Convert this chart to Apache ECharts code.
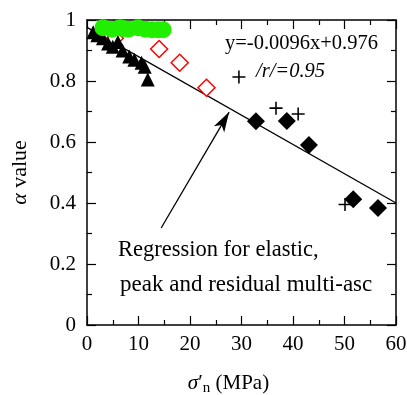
<!DOCTYPE html>
<html><head><meta charset="utf-8">
<script src="https://cdn.jsdelivr.net/npm/echarts@6/dist/echarts.min.js"></script>
<style>html,body{margin:0;padding:0;background:#fff}#c{width:407px;height:395px}</style>
</head><body><div id="c"></div>
<script>
// Data
const greenX = [3.1, 4.9, 6.4, 7.0, 8.0, 9.9, 11.3, 12.6, 13.8, 14.8];
const greenY = [0.975, 0.970, 0.975, 0.972, 0.970, 0.975, 0.970, 0.968, 0.968, 0.968];
const triX = [1.2, 2.0, 3.1, 4.1, 5.0, 6.0, 6.9, 8.2, 9.2, 10.6, 11.2, 11.8];
const triY = [0.960, 0.950, 0.940, 0.923, 0.912, 0.928, 0.900, 0.880, 0.870, 0.860, 0.847, 0.805];
const redX = [5.4, 14.0, 18.0, 23.2];
const redY = [0.940, 0.905, 0.860, 0.778];
const diaX = [32.8, 38.8, 43.1, 51.7, 56.5];
const diaY = [0.668, 0.669, 0.590, 0.412, 0.384];
const plusX = [29.5, 36.7, 41.0, 50.1];
const plusY = [0.813, 0.711, 0.692, 0.395];
const slope = -0.0096, intercept = 0.976;
const lineX = [0, 60];
const arrowFrom = [14.4, 0.318], arrowTo = [27.6, 0.698];
const xTicks = [0, 10, 20, 30, 40, 50, 60];
const yTicks = [0, 0.2, 0.4, 0.6, 0.8, 1];

const zip = (a, b) => a.map((v, i) => [v, b[i]]);
const font = 'Liberation Serif';
const FS = 21;
const baseAxis = {
  axisLine: {show: true, onZero: false, lineStyle: {color: '#000', width: 1.5}},
  axisTick: {show: true, inside: true, length: 9, lineStyle: {color: '#000', width: 1.2}},
  minorTick: {show: true, splitNumber: 2, length: 5, lineStyle: {color: '#000', width: 1.2}},
  splitLine: {show: false},
};
const chart = echarts.init(document.getElementById('c'));
chart.setOption({
  animation: false,
  grid: {left: 87, right: 11, top: 20, bottom: 70, containLabel: false, outerBoundsMode: 'none'},
  xAxis: [
    Object.assign({}, baseAxis, {type: 'value', min: xTicks[0], max: xTicks[xTicks.length-1], interval: 10, position: 'bottom',
      axisLabel: {fontFamily: font, fontSize: FS, color: '#000', margin: 9},
      name: '{i|σ}′{s|n} (MPa)', nameLocation: 'middle', nameGap: 46,
      nameTextStyle: {fontFamily: font, fontSize: FS, color: '#000', padding: [0, 26, 0, 0],
        rich: {i: {fontFamily: font, fontStyle: 'italic', fontSize: FS, color: '#000'},
               s: {fontFamily: font, fontSize: 15, color: '#000', verticalAlign: 'bottom', padding: [10,0,0,0]}}}}),
    Object.assign({}, baseAxis, {type: 'value', min: 0, max: 60, interval: 10, position: 'top', axisLabel: {show: false}})
  ],
  yAxis: [
    Object.assign({}, baseAxis, {type: 'value', min: yTicks[0], max: yTicks[yTicks.length-1], interval: 0.2, position: 'left',
      axisLabel: {fontFamily: font, fontSize: FS, color: '#000', margin: 11, formatter: v => String(+v.toFixed(1))},
      name: '{i|α} value', nameLocation: 'middle', nameGap: 56, nameRotate: 90,
      nameTextStyle: {fontFamily: font, fontSize: 22, color: '#000',
        rich: {i: {fontFamily: font, fontStyle: 'italic', fontSize: 22, color: '#000'}}}}),
    Object.assign({}, baseAxis, {type: 'value', min: 0, max: 1, interval: 0.2, position: 'right', axisLabel: {show: false}})
  ],
  series: [
    {type: 'line', data: lineX.map(x => [x, slope * x + intercept]), symbol: 'none',
      lineStyle: {color: '#000', width: 1.3}, z: 1,
      markLine: {silent: true, symbol: ['none', 'arrow'], symbolSize: [9, 20],
        lineStyle: {color: '#000', width: 1.3, type: 'solid'}, label: {show: false},
        data: [[{coord: arrowFrom}, {coord: arrowTo}]]}},
    {type: 'scatter', data: zip(redX, redY), symbol: 'diamond', symbolSize: 17,
      itemStyle: {color: '#fff', borderColor: '#ff0000', borderWidth: 1.5, opacity: 1}, z: 2},
    {type: 'scatter', data: zip(triX, triY), symbol: 'triangle', symbolSize: 14,
      itemStyle: {color: '#000', opacity: 1}, z: 3},
    {type: 'scatter', data: zip(greenX, greenY), symbol: 'circle', symbolSize: 17,
      itemStyle: {color: '#22ee00', opacity: 1}, z: 4},
    {type: 'scatter', data: zip(diaX, diaY), symbol: 'diamond', symbolSize: 18,
      itemStyle: {color: '#000', opacity: 1}, z: 3},
    {type: 'scatter', data: zip(plusX, plusY), symbol: 'path://M4.4,0H5.6V10H4.4ZM0,4.4H10V5.6H0Z', symbolSize: 13,
      itemStyle: {color: '#000', opacity: 1}, z: 3}
  ],
  graphic: [
    {type: 'text', left: 225, top: 33, style: {text: 'y=-0.0096x+0.976', fontFamily: font, fontSize: 20.5, fill: '#000'}},
    {type: 'text', left: 256, top: 62, style: {text: '/r/=0.95', fontFamily: font, fontSize: 20.5, fontStyle: 'italic', fill: '#000'}},
    {type: 'text', left: 118, top: 239, style: {text: 'Regression for elastic,', fontFamily: font, fontSize: 22.5, fill: '#000'}},
    {type: 'text', left: 120, top: 273, style: {text: 'peak and residual multi-asc', fontFamily: font, fontSize: 23, fill: '#000'}}
  ]
});
</script></body></html>
